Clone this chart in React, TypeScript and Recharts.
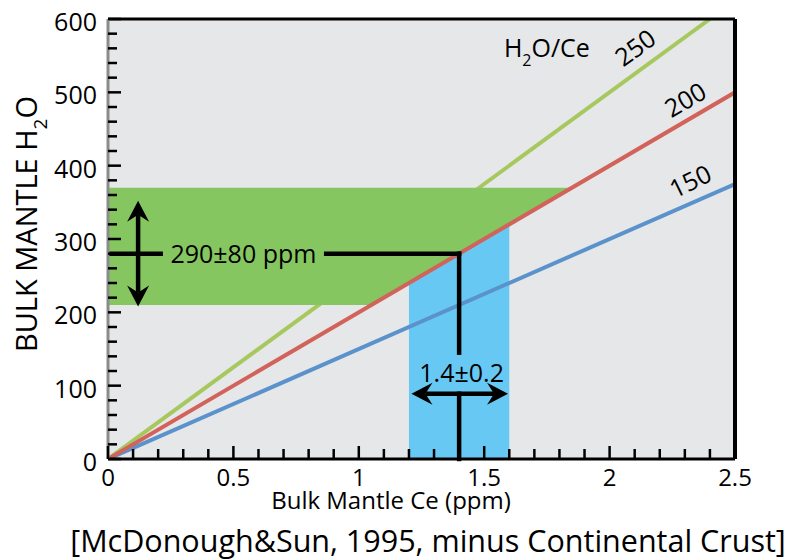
import {
  ComposedChart,
  Line,
  Area,
  XAxis,
  YAxis,
  CartesianGrid,
  ReferenceLine,
  ReferenceDot,
} from "recharts";

const FONT = "'Open Sans', sans-serif";

// H2O/Ce ratio lines (Ce ppm -> H2O ppm), ending at the frame
const ratio150 = [
  { ce: 0, h2o: 0 },
  { ce: 2.5, h2o: 375 },
];
const ratio200 = [
  { ce: 0, h2o: 0 },
  { ce: 2.5, h2o: 500 },
];
const ratio250 = [
  { ce: 0, h2o: 0 },
  { ce: 2.4, h2o: 600 },
];

// 290±80 ppm H2O band, cut at the 200 line
const waterBand = [
  { ce: 0, range: [210, 370] },
  { ce: 1.05, range: [210, 370] },
  { ce: 1.85, range: [370, 370] },
];

// 1.4±0.2 ppm Ce band, under the 200 line
const ceBand = [
  { ce: 1.2, range: [0, 240] },
  { ce: 1.6, range: [0, 320] },
];

const xTicks = [
  0, 0.1, 0.2, 0.3, 0.4, 0.5, 0.6, 0.7, 0.8, 0.9, 1, 1.1, 1.2, 1.3, 1.4, 1.5,
  1.6, 1.7, 1.8, 1.9, 2, 2.1, 2.2, 2.3, 2.4, 2.5,
];
const xLabels = [0, 0.5, 1, 1.5, 2, 2.5];
const yTicks = [
  0, 20, 40, 60, 80, 100, 120, 140, 160, 180, 200, 220, 240, 260, 280, 300,
  320, 340, 360, 380, 400, 420, 440, 460, 480, 500, 520, 540, 560, 580, 600,
];
const yLabels = [0, 100, 200, 300, 400, 500, 600];

// ratio labels placed along the lines: [ce, h2o, text, angle]
const ratioLabels: [number, number, string, number][] = [
  [2.1, 562, "250", -36],
  [2.3, 491, "200", -30],
  [2.32, 380, "150", -26],
];

const XTick = ({ x, y, payload }: any) => {
  const major = xLabels.includes(payload.value);
  return (
    <g>
      <line x1={x} x2={x} y1={y} y2={y - (major ? 13 : 10)} stroke="#000" strokeWidth={2.5} />
      {major && (
        <text x={x} y={y + 27} textAnchor="middle" fontFamily={FONT} fontSize={24} fill="#000">
          {payload.value}
        </text>
      )}
    </g>
  );
};

const YTick = ({ x, y, payload }: any) => {
  const major = yLabels.includes(payload.value);
  return (
    <g>
      <line x1={x} x2={x + (major ? 13 : 9)} y1={y} y2={y} stroke="#000" strokeWidth={2.5} />
      {major && (
        <text x={x - 11} y={y + 12} textAnchor="end" fontFamily={FONT} fontSize={25} fill="#000">
          {payload.value}
        </text>
      )}
    </g>
  );
};

const head = (tx: number, ty: number, ux: number, uy: number) => {
  const L = 21;
  const W = 11;
  const N = 7;
  const bx = tx - ux * L;
  const by = ty - uy * L;
  const nx = -uy;
  const ny = ux;
  return `M${tx},${ty} L${bx + nx * W},${by + ny * W} L${tx - ux * (L - N)},${ty - uy * (L - N)} L${bx - nx * W},${by - ny * W} Z`;
};

const DoubleArrow = (props: any) => {
  const { x1, y1, x2, y2 } = props;
  const len = Math.hypot(x2 - x1, y2 - y1) || 1;
  const ux = (x2 - x1) / len;
  const uy = (y2 - y1) / len;
  return (
    <g>
      <line
        x1={x1 + ux * 14}
        y1={y1 + uy * 14}
        x2={x2 - ux * 14}
        y2={y2 - uy * 14}
        stroke="#000"
        strokeWidth={4.5}
      />
      <path d={head(x2, y2, ux, uy)} fill="#000" />
      <path d={head(x1, y1, -ux, -uy)} fill="#000" />
    </g>
  );
};

const Stroke = (props: any) => (
  <line
    x1={props.x1}
    y1={props.y1}
    x2={props.x2}
    y2={props.y2}
    stroke="#000"
    strokeWidth={4.5}
    strokeLinecap="square"
  />
);

// text anchored at a data point (cx, cy from the ReferenceDot)
const note = (content: React.ReactNode, angle = 0, size = 25) => (props: any) => {
  const { cx, cy } = props;
  return (
    <text
      x={cx}
      y={cy}
      textAnchor="middle"
      dominantBaseline={angle ? "central" : "auto"}
      transform={angle ? `rotate(${angle} ${cx} ${cy})` : undefined}
      fontFamily={FONT}
      fontSize={size}
      fill="#000"
    >
      {content}
    </text>
  );
};

export default function App() {
  return (
    <div style={{ position: "absolute", left: 0, top: 0, background: "#fff" }}>
      <ComposedChart
        width={788}
        height={560}
        margin={{ top: 19, right: 53, bottom: 0, left: 0 }}
      >
        <CartesianGrid fill="#e6e7e8" stroke="none" horizontal={false} vertical={false} />

        <Line
          data={ratio250}
          dataKey="h2o"
          type="linear"
          stroke="#a6c85f"
          strokeWidth={4}
          dot={false}
          zIndex={50}
          isAnimationActive={false}
        />
        <Area
          data={waterBand}
          dataKey="range"
          type="linear"
          fill="#86c660"
          fillOpacity={1}
          stroke="none"
          isAnimationActive={false}
        />
        <Area
          data={ceBand}
          dataKey="range"
          type="linear"
          fill="#67c9f3"
          fillOpacity={1}
          stroke="none"
          isAnimationActive={false}
        />
        <Line
          data={ratio150}
          dataKey="h2o"
          type="linear"
          stroke="#5b92cc"
          strokeWidth={4}
          dot={false}
          isAnimationActive={false}
        />
        <Line
          data={ratio200}
          dataKey="h2o"
          type="linear"
          stroke="#d1635b"
          strokeWidth={4}
          dot={false}
          isAnimationActive={false}
        />

        {/* read-off guides at Ce 1.4 / H2O 280 */}
        <ReferenceLine segment={[{ x: 0.01, y: 280 }, { x: 0.21, y: 280 }]} shape={Stroke} />
        <ReferenceLine segment={[{ x: 0.87, y: 280 }, { x: 1.4, y: 280 }]} shape={Stroke} />
        <ReferenceLine segment={[{ x: 1.4, y: 280 }, { x: 1.4, y: 145 }]} shape={Stroke} />
        <ReferenceLine segment={[{ x: 1.4, y: 89 }, { x: 1.4, y: 0 }]} shape={Stroke} />
        <ReferenceLine segment={[{ x: 0.12, y: 208 }, { x: 0.12, y: 352 }]} shape={DoubleArrow} />
        <ReferenceLine segment={[{ x: 1.21, y: 89 }, { x: 1.595, y: 89 }]} shape={DoubleArrow} />

        {/* frame: top and right edges */}
        <ReferenceLine y={600} stroke="#000" strokeWidth={3} />
        <ReferenceLine x={2.5} stroke="#000" strokeWidth={4} />

        <ReferenceDot x={0.54} y={267} r={0} shape={note("290±80 ppm")} />
        <ReferenceDot x={1.41} y={105} r={0} shape={note("1.4±0.2")} />
        <ReferenceDot
          x={1.75}
          y={548}
          r={0}
          shape={note(
            <>
              H<tspan fontSize={16} dy={9}>2</tspan>
              <tspan dy={-9}>O/Ce</tspan>
            </>
          )}
        />
        {ratioLabels.map(([ce, h2o, label, angle]) => (
          <ReferenceDot key={label} x={ce} y={h2o} r={0} shape={note(label, angle)} />
        ))}

        <XAxis
          type="number"
          dataKey="ce"
          domain={[0, 2.5]}
          ticks={xTicks}
          interval={0}
          height={101}
          tickSize={0}
          tickMargin={0}
          tick={<XTick />}
          axisLine={{ stroke: "#000", strokeWidth: 3 }}
          allowDataOverflow
        />
        <YAxis
          type="number"
          domain={[0, 600]}
          ticks={yTicks}
          interval={0}
          width={108}
          tickSize={0}
          tickMargin={0}
          tick={<YTick />}
          axisLine={{ stroke: "#8c8c8c", strokeWidth: 3 }}
          allowDataOverflow
        />

        <text
          x={37}
          y={224}
          textAnchor="middle"
          transform="rotate(-90 37 224)"
          fontFamily={FONT}
          fontSize={29}
          fill="#000"
        >
          BULK MANTLE H<tspan fontSize={19} dy={10}>2</tspan>
          <tspan dy={-10}>O</tspan>
        </text>
        <text x={391} y={509} textAnchor="middle" fontFamily={FONT} fontSize={24} fill="#000">
          Bulk Mantle Ce (ppm)
        </text>
        <text x={428} y={552} textAnchor="middle" fontFamily={FONT} fontSize={30.5} fill="#000">
          [McDonough&amp;Sun, 1995, minus Continental Crust]
        </text>
      </ComposedChart>
    </div>
  );
}
